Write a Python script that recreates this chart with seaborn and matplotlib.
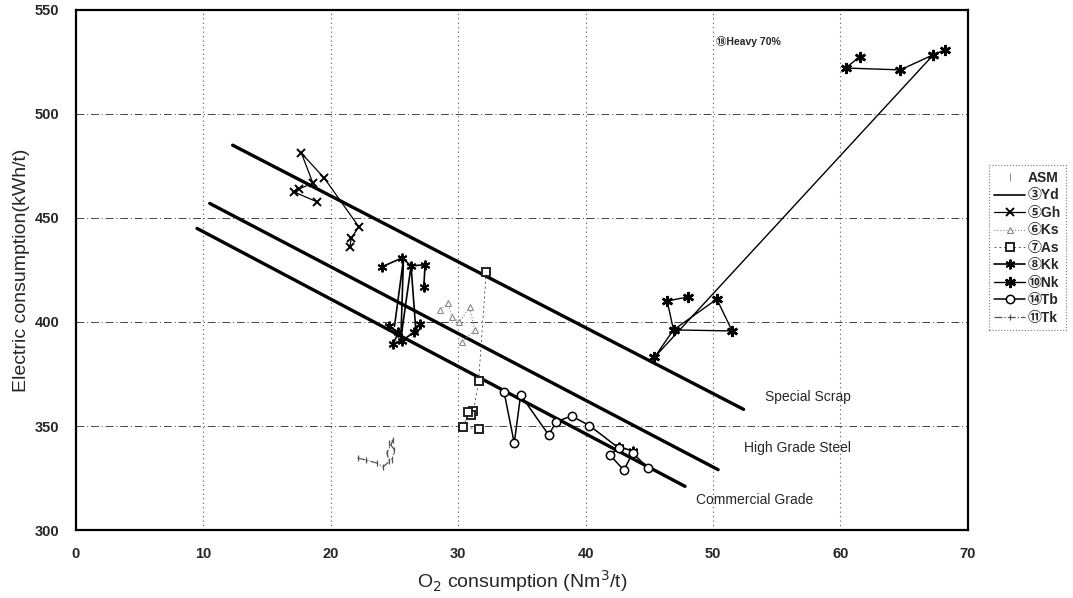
import pandas as pd
import numpy as np
import matplotlib.pyplot as plt
import seaborn as sns
from matplotlib.lines import Line2D

# -----------------------------
# Data
# -----------------------------
x_ticks = [0, 10, 20, 30, 40, 50, 60, 70]
y_ticks = [300, 350, 400, 450, 500, 550]

# guide lines (grade bands)
special_x = [12.3, 52.4]
special_y = [485, 358]
high_x = [10.5, 50.4]
high_y = [457, 329]
comm_x = [9.5, 47.8]
comm_y = [445, 321]

# (3) Yd - solid line, no marker
yd_x = [25.0, 25.7, 25.5, 26.3, 26.7, 27.2]
yd_y = [398, 430, 392, 427, 394, 399]
yd_seg = [0, 0, 0, 0, 0, 0]

# (5) Gh - x markers
gh_x = [18.9, 17.1, 17.5, 18.6, 17.7, 19.5, 22.2, 21.6, 21.5]
gh_y = [457.8, 462.6, 464.0, 466.7, 481.1, 469.1, 445.8, 440.2, 436.2]
gh_seg = [0, 0, 0, 0, 0, 0, 0, 0, 0]

# (6) Ks - dotted, triangles
ks_x = [28.6, 29.2, 29.5, 30.1, 30.9, 31.3, 30.3]
ks_y = [405.8, 409.0, 402.4, 400.0, 407.2, 396.2, 390.4]
ks_seg = [0, 0, 0, 0, 0, 0, 0]

# (7) As - dashed, squares
as_x = [32.2, 31.6, 31.2, 31.0, 30.8, 30.4, 31.6]
as_y = [424.0, 371.5, 357.0, 355.5, 356.5, 349.5, 348.5]
as_seg = [0, 0, 0, 0, 0, 0, 0]

# (8) Kk - asterisks
kk_x = [24.0, 25.6, 26.3, 27.4, 27.3, 24.6, 25.3, 24.9, 25.6, 26.5, 27.0, 42.6, 43.7]
kk_y = [426.5, 430.8, 427.0, 427.5, 417.0, 398.0, 395.0, 389.5, 391.0, 395.0, 399.0, 340.0, 338.0]
kk_seg = [0, 0, 0, 0, 0, 1, 1, 1, 1, 1, 1, 2, 2]

# (10) Nk - bold asterisks
nk_x = [61.5, 60.4, 64.7, 67.3, 68.2, 67.3, 45.4, 46.9, 50.3, 51.5, 46.9, 46.4, 48.0]
nk_y = [527.4, 522.1, 521.2, 528.5, 530.8, 528.5, 383.0, 396.2, 411.0, 395.7, 396.2, 410.1, 412.0]
nk_seg = [0, 0, 0, 0, 0, 1, 1, 1, 1, 1, 1, 1, 1]

# (14) Tb - open circles
tb_x = [33.6, 34.4, 34.9, 37.1, 37.7, 38.9, 40.3, 42.6, 41.9, 43.0, 43.7, 44.9]
tb_y = [366.3, 341.8, 364.9, 345.7, 352.1, 354.8, 350.2, 339.4, 336.1, 328.8, 337.0, 329.8]
tb_seg = [0] * 12

# (11) Tk - dash-dot, small ticks
tk_x = [22.1, 22.8, 23.6, 24.1, 24.6, 24.4, 24.9, 24.6, 25.0, 24.8]
tk_y = [334.6, 333.6, 332.2, 330.3, 333.0, 337.0, 343.3, 341.8, 338.5, 333.7]
tk_seg = [0] * 10

series = [
    # name, x, y, seg, color, linestyle, lw, marker, msize, face, mew
    ("③Yd", yd_x, yd_y, yd_seg, "black", "-", 1.2, None, 0, "black", 1.0),
    ("⑤Gh", gh_x, gh_y, gh_seg, "black", "-", 0.9, "x", 6, "black", 1.4),
    ("⑥Ks", ks_x, ks_y, ks_seg, "#8a8a8a", ":", 0.8, "^", 4, "white", 0.8),
    ("⑦As", as_x, as_y, as_seg, "#222222", (0, (3, 4)), 0.5, "s", 6, "white", 1.4),
    ("⑧Kk", kk_x, kk_y, kk_seg, "black", "-", 1.2, (6, 2, 0), 7, "black", 1.4),
    ("⑩Nk", nk_x, nk_y, nk_seg, "black", "-", 1.0, (6, 2, 0), 8, "black", 1.8),
    ("⑭Tb", tb_x, tb_y, tb_seg, "black", "-", 1.1, "o", 6, "white", 1.1),
    ("⑪Tk", tk_x, tk_y, tk_seg, "#555555", "-.", 0.9, "|", 5, "#555555", 0.9),
]

# -----------------------------
# Plot
# -----------------------------
sns.set_style("white")
plt.rcParams['font.family'] = ['Liberation Sans', 'Noto Sans CJK JP', 'DejaVu Sans']

fig = plt.figure(figsize=(10.73, 5.98), dpi=100)
ax = fig.add_axes([0.0708, 0.1137, 0.8312, 0.8696])

# grid
ax.set_xlim(0, 70)
ax.set_ylim(300, 550)
ax.set_xticks(x_ticks)
ax.set_yticks(y_ticks)
ax.xaxis.grid(True, color="#555555", linestyle=(0, (1, 3)), linewidth=0.8)
ax.yaxis.grid(True, color="#444444", linestyle=(0, (8, 3, 1, 3)), linewidth=0.7)
ax.set_axisbelow(True)

# guide lines
for gx, gy in [(special_x, special_y), (high_x, high_y), (comm_x, comm_y)]:
    sns.lineplot(x=gx, y=gy, color="black", linewidth=2.4, ax=ax, sort=False, estimator=None)

ax.text(54.1, 364, "Special Scrap", fontsize=10, va="center")
ax.text(52.4, 339.5, "High Grade Steel", fontsize=10, va="center")
ax.text(48.7, 314.4, "Commercial Grade", fontsize=10, va="center")
ax.text(50.2, 535, "⑱Heavy 70%", fontsize=7.5, fontweight="bold", va="center")

handles = [Line2D([], [], linestyle="none", marker="|", markersize=6,
                  color="#777777", markeredgewidth=0.6, label="ASM")]
for name, sx, sy, sg, col, ls, lw, mk, ms, fc, mew in series:
    df = pd.DataFrame({"x": sx, "y": sy, "seg": sg})
    kws = dict(color=col, linestyle=ls, linewidth=lw)
    if mk is not None:
        kws.update(marker=mk, markersize=ms, markerfacecolor=fc,
                   markeredgecolor=col, markeredgewidth=mew)
    sns.lineplot(data=df, x="x", y="y", units="seg", estimator=None, sort=False,
                 ax=ax, legend=False, **kws)
    handles.append(Line2D([], [], label=name, **kws))

for sp in ax.spines.values():
    sp.set_color("black")
    sp.set_linewidth(1.6)

ax.tick_params(axis="both", length=0, labelsize=10.5, pad=12)
for lab in ax.get_xticklabels() + ax.get_yticklabels():
    lab.set_fontweight("bold")

ax.set_xlabel("O$_2$ consumption (Nm$^3$/t)", fontsize=14, labelpad=5)
ax.set_ylabel("Electric consumption(kWh/t)", fontsize=14, labelpad=3)

leg = fig.legend(handles=handles, loc="upper left", bbox_to_anchor=(0.915, 0.735),
                 fontsize=10, handlelength=2.2, handletextpad=0.2, labelspacing=0.25,
                 borderpad=0.4, frameon=True, fancybox=False)
leg.get_frame().set_edgecolor("#555555")
leg.get_frame().set_linestyle(":")
leg.get_frame().set_linewidth(0.8)
for t in leg.get_texts():
    t.set_fontweight("bold")

plt.savefig("out.png", dpi=100)
